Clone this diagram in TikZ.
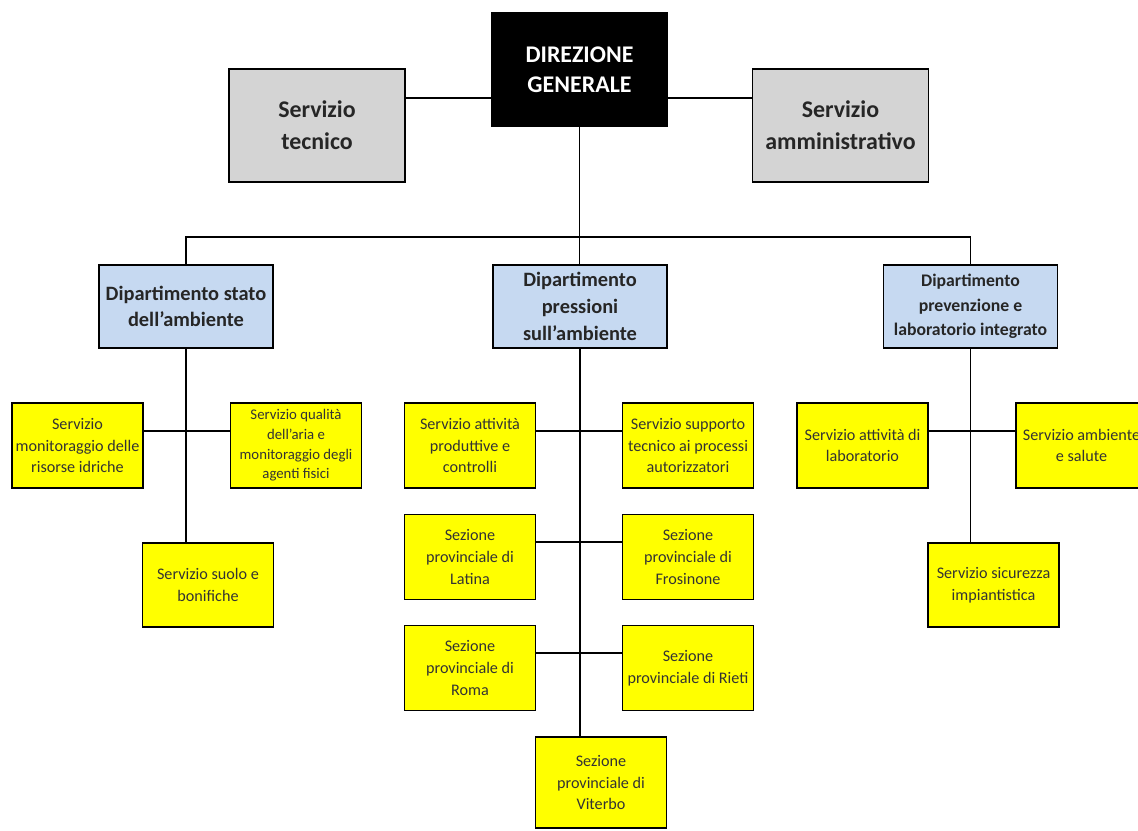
\documentclass[tikz,border=0pt]{standalone}
\usepackage{fontspec}
\setmainfont{Carlito}
\usetikzlibrary{calc}

\definecolor{grigio}{RGB}{212,212,212}
\definecolor{azzurro}{RGB}{198,217,241}
\definecolor{giallo}{RGB}{255,255,0}

\begin{document}
\begin{tikzpicture}[x = 0.025cm, y = -0.025cm, line width = 1.2pt,
	box/.style = {draw, rectangle, inner sep = 0pt, align = center},
	vertice/.style = {box, fill = black, text = white, font = \fontsize{17}{21.5}\selectfont\bfseries, minimum width = 4.375cm, minimum height = 2.825cm},
	staff/.style = {box, fill = grigio, text = black!85, font = \fontsize{17}{22.8}\selectfont\bfseries, minimum width = 4.4cm, minimum height = 2.825cm},
	dip/.style = {box, fill = azzurro, text = black!85, font = \fontsize{14.5}{19}\selectfont\bfseries, minimum width = 4.35cm, minimum height = 2.075cm},
	uff/.style = {box, fill = giallo, text = black!80, font = \fontsize{11.5}{15.3}\selectfont, minimum width = 3.275cm, minimum height = 2.125cm}]

	\useasboundingbox (0, 0) rectangle (1138, 830); % Area totale

	% Vertice
	\node[vertice] (dg) at (579.5,  69.5) {DIREZIONE\\GENERALE};
	\node[staff]   (st) at (317.0, 125.5) {Servizio\\tecnico};
	\node[staff]   (sa) at (840.5, 125.5) {Servizio\\amministrativo};

	% Dipartimenti
	\node[dip] (dep1) at (186.0, 306.5) {Dipartimento stato\\dell'ambiente};
	\node[dip] (dep2) at (580.0, 306.5) {Dipartimento\\pressioni\\sull'ambiente};
	\node[dip, font = \fontsize{12.6}{17.5}\selectfont\bfseries] (dep3) at (970.5, 306.5) {Dipartimento\\prevenzione e\\laboratorio integrato};

	% Stato dell'ambiente
	\node[uff] (a1) at ( 77.5, 445.5) {Servizio\\monitoraggio delle\\risorse idriche};
	\node[uff, font = \fontsize{10.5}{14}\selectfont] (a2) at (296.0, 445.5) {Servizio qualità\\dell'aria e\\monitoraggio degli\\agenti fisici};
	\node[uff, minimum height = 2.1cm] (a3) at (208.0, 585.0) {Servizio suolo e\\bonifiche};

	% Pressioni sull'ambiente
	\node[uff] (b1) at (470.0, 445.5) {Servizio attività\\produttive e\\controlli};
	\node[uff] (b2) at (688.0, 445.5) {Servizio supporto\\tecnico ai processi\\autorizzatori};
	\node[uff] (b3) at (470.0, 557.0) {Sezione\\provinciale di\\Latina};
	\node[uff] (b4) at (688.0, 557.0) {Sezione\\provinciale di\\Frosinone};
	\node[uff] (b5) at (470.0, 668.0) {Sezione\\provinciale di\\Roma};
	\node[uff] (b6) at (688.0, 668.0) {Sezione\\provinciale di Rieti};
	\node[uff, minimum height = 2.275cm] (b7) at (601.0, 782.5) {Sezione\\provinciale di\\Viterbo};

	% Prevenzione e laboratorio
	\node[uff] (c1) at ( 862.5, 445.5) {Servizio attività di\\laboratorio};
	\node[uff] (c2) at (1081.5, 445.5) {Servizio ambiente\\e salute};
	\node[uff, minimum height = 2.1cm] (c3) at ( 993.5, 585.0) {Servizio sicurezza\\impiantistica};

	% Collegamenti vertice
	\coordinate (stj) at ($(st.north east)!0.26!(st.south east)$);
	\draw[solid, black] (stj) -- (stj -| dg.west);
	\draw[solid, black] (stj -| dg.east) -- (stj -| sa.west);

	\coordinate (bus) at ($(dg.south)!0.8!(dg.south |- dep2.north)$);
	\draw[solid, black] (dg.south) -- (dg.south |- dep2.north);
	\draw[solid, black] (dep1.north) -- (dep1.north |- bus) -- (dep3.north |- bus) -- (dep3.north);

	% Collegamenti dipartimenti
	\draw[solid, black] (dep1.south) -- (dep1.south |- a3.north);
	\draw[solid, black] (dep2.south) -- (dep2.south |- b7.north);
	\draw[solid, black] (dep3.south) -- (dep3.south |- c3.north);

	\coordinate (aj) at ($(a1.north east)!0.33!(a1.south east)$);
	\draw[solid, black] (aj) -- (aj -| a2.west);
	\coordinate (bj1) at ($(b1.north east)!0.33!(b1.south east)$);
	\draw[solid, black] (bj1) -- (bj1 -| b2.west);
	\coordinate (bj2) at ($(b3.north east)!0.33!(b3.south east)$);
	\draw[solid, black] (bj2) -- (bj2 -| b4.west);
	\coordinate (bj3) at ($(b5.north east)!0.33!(b5.south east)$);
	\draw[solid, black] (bj3) -- (bj3 -| b6.west);
	\coordinate (cj) at ($(c1.north east)!0.33!(c1.south east)$);
	\draw[solid, black] (cj) -- (cj -| c2.west);

\end{tikzpicture}
\end{document}
